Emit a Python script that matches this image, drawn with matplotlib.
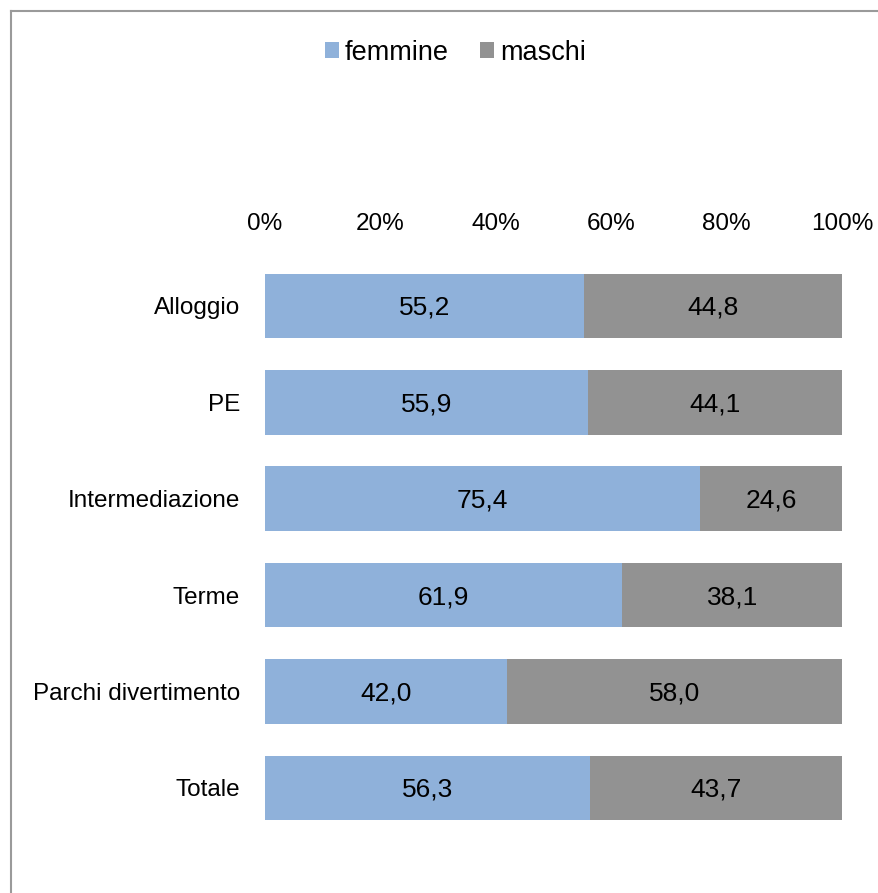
import matplotlib.pyplot as plt
from matplotlib.lines import Line2D
import numpy as np

plt.rcParams['font.family'] = ['Liberation Sans', 'DejaVu Sans']

# Data
categories = ["Alloggio", "PE", "Intermediazione", "Terme", "Parchi divertimento", "Totale"]
femmine = [55.2, 55.9, 75.4, 61.9, 42.0, 56.3]
maschi = [44.8, 44.1, 24.6, 38.1, 58.0, 43.7]
tick_vals = [0, 20, 40, 60, 80, 100]

blue = "#8FB1DA"
grey = "#929292"

fig = plt.figure(figsize=(8.79, 8.93), dpi=100)
ax = fig.add_axes([0.3015, 0.0636, 0.6565, 0.6478])

y = np.arange(len(categories))
b1 = ax.barh(y, femmine, height=0.67, color=blue, label="femmine")
b2 = ax.barh(y, maschi, left=femmine, height=0.67, color=grey, label="maschi")

for vals, lefts in [(femmine, [0] * len(femmine)), (maschi, femmine)]:
    for v, l, yy in zip(vals, lefts, y):
        ax.text(l + v / 2, yy + 0.02, f"{v:.1f}".replace(".", ","), ha="center", va="center",
                fontsize=19, color="black")

ax.set_xlim(0, 100)
ax.set_ylim(len(categories) - 0.5, -0.5)
ax.set_yticks(y)
ax.set_yticklabels(categories, fontsize=17.5)
ax.set_xticks(tick_vals)
ax.set_xticklabels([f"{t}%" for t in tick_vals], fontsize=17.5)
ax.xaxis.tick_top()
ax.tick_params(axis="x", length=0, pad=16)
ax.tick_params(axis="y", length=0, pad=18)
for s in ax.spines.values():
    s.set_visible(False)

fig.legend(handles=[b1, b2], loc="center", bbox_to_anchor=(0.518, 0.941), ncol=2,
           frameon=False, fontsize=19.5, handlelength=0.52, handleheight=0.52,
           handletextpad=0.22, columnspacing=1.15, borderpad=0)

# chart frame (left and top edges visible)
fig.add_artist(Line2D([10.5 / 879, 10.5 / 879], [0, 1 - 10.5 / 893], color="#9A9A9A", lw=1.5,
                      transform=fig.transFigure))
fig.add_artist(Line2D([10.5 / 879, 1], [1 - 10.5 / 893, 1 - 10.5 / 893], color="#9A9A9A", lw=1.5,
                      transform=fig.transFigure))

fig.savefig("out.png", dpi=100)
